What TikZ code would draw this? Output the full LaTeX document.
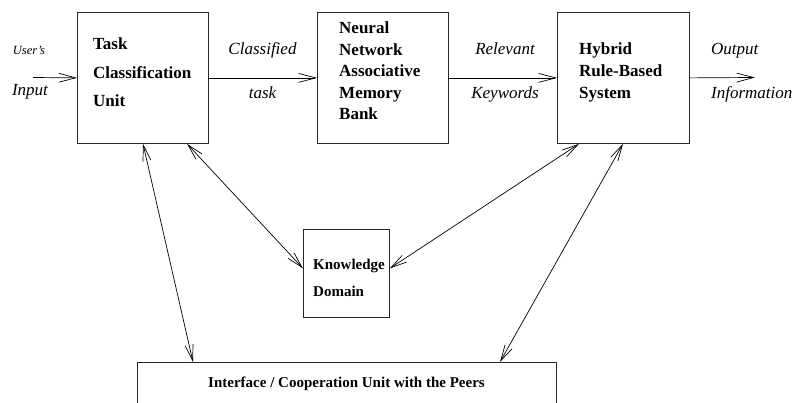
\documentclass[tikz,border=0pt]{standalone}
\usepackage{fontspec}
\setmainfont{Liberation Serif}
\usetikzlibrary{arrows.meta}
\begin{document}
\begin{tikzpicture}[x=1pt,y=-1pt,
  box/.style={draw=black!85, line width=0.8pt, inner sep=0pt, anchor=north west},
  btxt/.style={anchor=base west, inner sep=0pt},
  lab/.style={anchor=base, inner sep=0pt, font=\itshape\fontsize{17}{20}\selectfont},
  arr/.style={-{Straight Barb[length=17pt,width=9pt]}, line width=0.7pt},
  darr/.style={{Straight Barb[length=16pt,width=8pt]}-{Straight Barb[length=16pt,width=8pt]}, line width=0.7pt}]
\useasboundingbox (0,0) rectangle (793,403);

% boxes
\node[box, minimum width=131pt, minimum height=131pt] (task) at (77,12) {};
\node[box, minimum width=131pt, minimum height=131pt] (neural) at (317,12) {};
\node[box, minimum width=132pt, minimum height=131pt] (hybrid) at (557,12) {};
\node[box, minimum width=86pt, minimum height=88pt] (know) at (303,229) {};
\begin{scope}
\clip (0,0) rectangle (793,403);
\node[box, minimum width=419pt, minimum height=80pt] (iface) at (137,362) {};
\end{scope}

% box texts
\node[btxt] (tasktxt) at (93,50) {\parbox[t]{115pt}{\bfseries\fontsize{17}{28.5}\selectfont Task\\Classification\\Unit}};
\node[btxt] (neuraltxt) at (339,34) {\parbox[t]{105pt}{\bfseries\fontsize{17}{21.5}\selectfont Neural\\Network\\Associative\\Memory\\Bank}};
\node[btxt] (hybridtxt) at (579,55) {\parbox[t]{105pt}{\bfseries\fontsize{17}{22}\selectfont Hybrid\\Rule-Based\\System}};
\node[btxt] (knowtxt) at (313,270) {\parbox[t]{80pt}{\bfseries\fontsize{15}{27}\selectfont Knowledge\\Domain}};
\node[anchor=base, inner sep=0pt, font=\bfseries\fontsize{15}{18}\selectfont] (ifacetxt) at (346.5,388) {Interface / Cooperation Unit with the Peers};

% horizontal flow
\coordinate (in) at (33,77.5);
\coordinate (out) at (755,77.5);
\draw[arr] (in) -- (task.west);
\draw[arr] (task.east) -- (neural.west);
\draw[arr] (neural.east) -- (hybrid.west);
\draw[arr] (hybrid.east) -- (out);

% labels
\node[anchor=base, inner sep=0pt, font=\itshape\fontsize{12.5}{15}\selectfont] (users) at (29,55) {User's};
\node[lab] (input) at (30,96) {Input};
\node[lab] (classified) at (262.5,55) {Classified};
\node[lab] (tasklab) at (262.5,99) {task};
\node[lab] (relevant) at (505,55) {Relevant};
\node[lab] (keywords) at (505,99) {Keywords};
\node[lab, anchor=base west] (output) at (711,55) {Output};
\node[lab, anchor=base west] (information) at (711,99) {Information};

% diagonal connectors
\draw[darr] ([xshift=66pt]task.south west) -- ([xshift=56pt]iface.north west);
\draw[darr] ([xshift=110pt]task.south west) -- ([yshift=5pt]know.west);
\draw[darr] ([xshift=22pt]hybrid.south west) -- ([yshift=5pt]know.east);
\draw[darr] ([xshift=66pt]hybrid.south west) -- ([xshift=363pt]iface.north west);
\end{tikzpicture}
\end{document}
